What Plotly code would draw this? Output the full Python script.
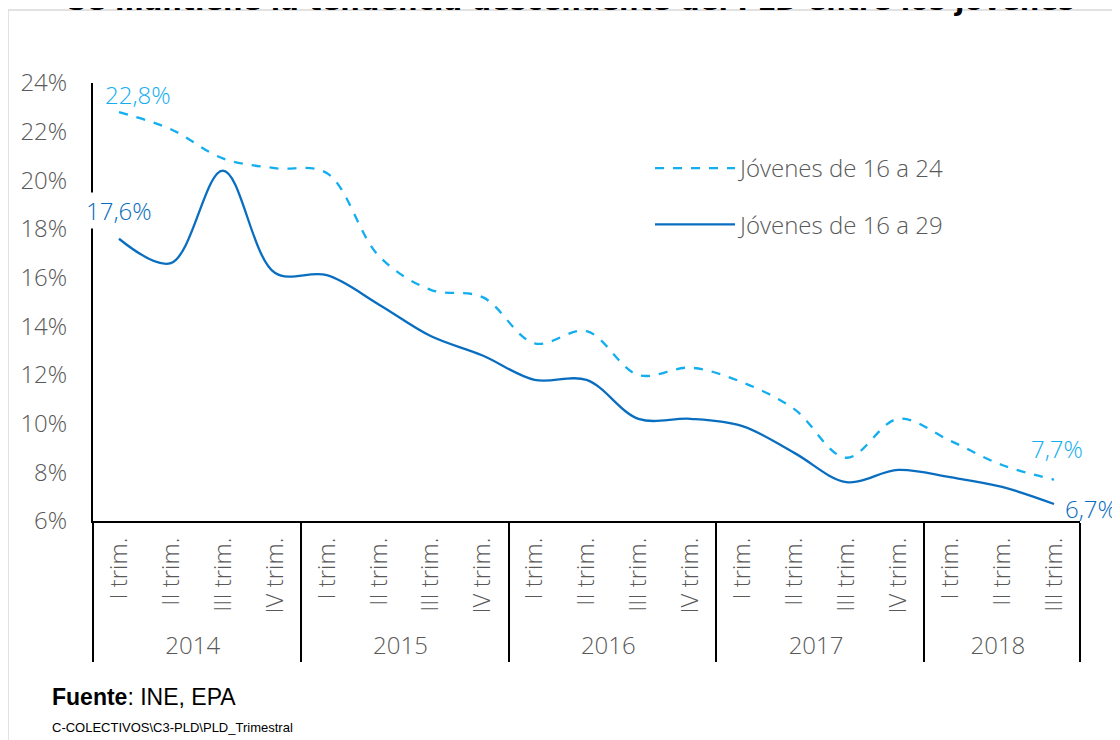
import plotly.graph_objects as go

years = ["2014"] * 4 + ["2015"] * 4 + ["2016"] * 4 + ["2017"] * 4 + ["2018"] * 3
quarters = ["I trim.", "II trim.", "III trim.", "IV trim."] * 4 + ["I trim.", "II trim.", "III trim."]

pld_16_24 = [22.8, 22.1, 20.9, 20.5, 20.3, 16.9, 15.5, 15.2, 13.3, 13.8,
             12.0, 12.3, 11.7, 10.6, 8.6, 10.2, 9.3, 8.3, 7.7]
pld_16_29 = [17.6, 16.6, 20.4, 16.2, 16.1, 14.9, 13.6, 12.8, 11.8, 11.8,
             10.2, 10.2, 9.9, 8.8, 7.6, 8.1, 7.8, 7.4, 6.7]

y_ticks = [6, 8, 10, 12, 14, 16, 18, 20, 22, 24]
y_ticktext = [f"{v}%" for v in y_ticks]

title_text = "Se mantiene la tendencia descendente del PLD entre los jóvenes"
source_text = "<b>Fuente</b>: INE, EPA"
path_text = "C-COLECTIVOS\\C3-PLD\\PLD_Trimestral"

C_LIGHT = "#12AEEF"
C_DARK = "#0A6EC0"
FONT = "Open Sans"
GRAY = "#595959"

x_multi = [years, quarters]

fig = go.Figure()
fig.add_trace(go.Scatter(
    x=x_multi, y=pld_16_24, name="Jóvenes de 16 a 24", mode="lines",
    line=dict(color=C_LIGHT, width=2.3, dash="dash", shape="spline", smoothing=1.0),
    legendgroup="a",
))
fig.add_trace(go.Scatter(
    x=x_multi, y=pld_16_29, name="Jóvenes de 16 a 29", mode="lines",
    line=dict(color=C_DARK, width=2.3, shape="spline", smoothing=1.0),
    legendgroup="b",
))

OFF = 8  # page body margin
W, H = 1112, 732
L, R, T, B = 85, 40, 75, 219
pw, ph = W - L - R, H - T - B


def px_x(px):
    return (px - OFF - L) / pw


def px_y(py):
    return (H - B - (py - OFF)) / ph


def fmt(v):
    return f"{v:.1f}%".replace(".", ",")


LBL = dict(family=FONT, size=24, weight=300)

annotations = [
    dict(x=[years[0], quarters[0]], y=pld_16_24[0], xref="x", yref="y",
         text=fmt(pld_16_24[0]), showarrow=False, xshift=19, yshift=18,
         font=dict(LBL, color=C_LIGHT)),
    dict(x=[years[0], quarters[0]], y=pld_16_29[0], xref="x", yref="y",
         text=fmt(pld_16_29[0]), showarrow=False, xshift=0, yshift=28,
         bgcolor="white", font=dict(LBL, color=C_DARK)),
    dict(x=[years[-1], quarters[-1]], y=pld_16_24[-1], xref="x", yref="y",
         text=fmt(pld_16_24[-1]), showarrow=False, xshift=3, yshift=31,
         font=dict(LBL, color=C_LIGHT)),
    dict(x=[years[-1], quarters[-1]], y=pld_16_29[-1], xref="x", yref="y",
         text=fmt(pld_16_29[-1]), showarrow=False, xshift=37, yshift=-5,
         font=dict(LBL, color=C_DARK)),
    dict(x=px_x(570), y=px_y(0), xref="paper", yref="paper", text="<b>" + title_text + "</b>",
         showarrow=False, xanchor="center", yanchor="middle",
         font=dict(family="DejaVu Sans", size=27.5, color="#000000")),
    dict(x=px_x(50), y=px_y(697), xref="paper", yref="paper", text=source_text,
         showarrow=False, xanchor="left", yanchor="middle",
         font=dict(family="Liberation Sans", size=23, color="#000000")),
    dict(x=px_x(50), y=px_y(727), xref="paper", yref="paper", text=path_text,
         showarrow=False, xanchor="left", yanchor="middle",
         font=dict(family="Liberation Sans", size=13, color="#000000")),
]

shapes = [
    dict(type="rect", xref="paper", yref="paper",
         x0=px_x(8), x1=px_x(1140), y0=px_y(760), y1=px_y(10),
         line=dict(color="#D9D9D9", width=1.5), fillcolor="rgba(0,0,0,0)", layer="below"),
]

fig.update_layout(
    width=W, height=H,
    margin=dict(l=L, r=R, t=T, b=B, autoexpand=False),
    paper_bgcolor="white", plot_bgcolor="white",
    showlegend=True,
    legend=dict(x=px_x(650), y=px_y(146), xanchor="left", yanchor="top",
                font=dict(family=FONT, size=24, weight=300, color=GRAY),
                itemwidth=80, tracegroupgap=22, traceorder="grouped",
                bgcolor="rgba(0,0,0,0)"),
    xaxis=dict(type="multicategory", range=[-0.5, 18.5], showgrid=False,
               showline=True, linecolor="#000000", linewidth=2,
               showdividers=True, dividercolor="#000000", dividerwidth=2,
               ticks="", tickangle=-90, ticklabelstandoff=5,
               tickfont=dict(family=FONT, size=24, weight=300, color=GRAY)),
    yaxis=dict(range=[6, 24], tickvals=y_ticks, ticktext=y_ticktext,
               showgrid=False, zeroline=False, showline=True, linecolor="#000000",
               linewidth=2, ticks="", ticklabelstandoff=19,
               tickfont=dict(family=FONT, size=24, weight=300, color=GRAY)),
    annotations=annotations,
    shapes=shapes,
)

fig.write_html("out.html")
